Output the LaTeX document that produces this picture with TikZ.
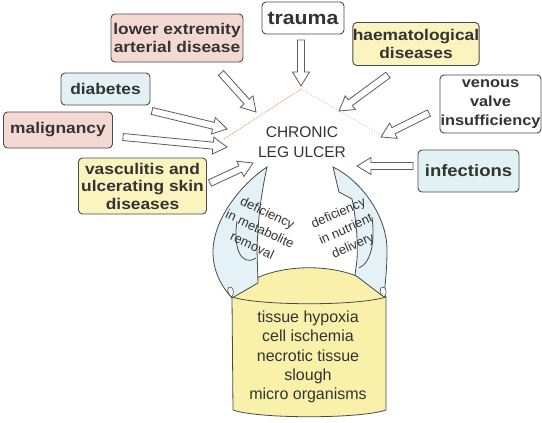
\documentclass[tikz,border=0pt]{standalone}
\usepackage{fontspec}
\setmainfont{Liberation Sans}
\newfontfamily\boxfont[FakeStretch=1.12]{Liberation Sans}
\usetikzlibrary{calc}
\definecolor{linec}{HTML}{4A4A4A}
\definecolor{textc}{HTML}{333333}
\definecolor{pinkf}{HTML}{F4D9D2}
\definecolor{bluef}{HTML}{E2F1F3}
\definecolor{yellowf}{HTML}{FBF4BE}
\definecolor{cylf}{HTML}{F9F1AA}
\definecolor{carrf}{HTML}{E4F2F7}
\definecolor{roofa}{HTML}{F0A060}
\definecolor{roofb}{HTML}{F0B4B4}
\tikzset{
  cbox/.style={draw=linec, line width=0.9pt, rounded corners=4pt, align=center,
    text=textc, inner sep=0pt,
    font=\boxfont\bfseries\fontsize{15.5}{17.5}\selectfont},
  harr/.style={draw=linec!90, line width=0.8pt, fill=white, line join=miter},
  carr/.style={draw=linec, line width=0.8pt, fill=carrf},
  clbl/.style={font=\fontsize{13}{18}\selectfont, text=textc, inner sep=0pt, align=center},
}
\newcommand{\harrow}[2]{%
  \coordinate (hb) at ($(#2)!14pt!(#1)$);
  \draw[harr] ($(#1)!3.5pt!90:(#2)$) -- ($(hb)!3.5pt!90:(#2)$) -- ($(hb)!8.5pt!90:(#2)$)
    -- (#2) -- ($(hb)!8.5pt!-90:(#2)$) -- ($(hb)!3.5pt!-90:(#2)$)
    -- ($(#1)!3.5pt!-90:(#2)$) -- cycle;
}
\begin{document}
\begin{tikzpicture}[x=1pt,y=-1pt]
\useasboundingbox[fill=white] (0,0) rectangle (542,423);

% roof lines
\draw[roofa, densely dotted, line width=0.9pt] (224,139) -- (301,89);
\draw[roofb, dotted, line width=0.9pt] (301,89) -- (383,136);

% boxes
\node[cbox, fill=pinkf, minimum width=132pt, minimum height=48pt] (lea) at (177,38) {lower extremity\\arterial disease};
\node[cbox, fill=white, minimum width=82pt, minimum height=32pt, font=\boxfont\bfseries\fontsize{19}{21}\selectfont] (trauma) at (303,18) {trauma};
\node[cbox, fill=yellowf, minimum width=124pt, minimum height=43pt] (haem) at (416,44) {haematological\\diseases};
\node[cbox, fill=bluef, minimum width=89pt, minimum height=32pt] (diab) at (105.5,89) {diabetes};
\node[cbox, fill=white, minimum width=101pt, minimum height=58pt, font=\boxfont\bfseries\fontsize{14.6}{19}\selectfont] (venous) at (490.5,104) {venous\\valve\\insufficiency};
\node[cbox, fill=pinkf, minimum width=109pt, minimum height=36pt] (malig) at (58,130) {malignancy};
\node[cbox, fill=bluef, minimum width=101pt, minimum height=42pt, font=\boxfont\bfseries\fontsize{16.5}{18}\selectfont] (infect) at (468.5,171) {infections};
\node[cbox, fill=yellowf, minimum width=128pt, minimum height=56pt] (vasc) at (142.5,186) {vasculitis and\\ulcerating skin\\diseases};

% centre
\node[font=\fontsize{15.5}{20}\selectfont, text=textc, align=center, inner sep=0pt] (ulcer) at (302,142) {CHRONIC\\LEG ULCER};

% hollow arrows
\coordinate (s1) at (221,73);  \coordinate (e1) at (256,112);
\coordinate (s2) at (301,40);  \coordinate (e2) at (301,86);
\coordinate (s3) at (388,75);  \coordinate (e3) at (339,111);
\coordinate (s4) at (152,111); \coordinate (e4) at (227,129);
\coordinate (s5) at (123,137); \coordinate (e5) at (227,147);
\coordinate (s6) at (210,183); \coordinate (e6) at (253,163);
\coordinate (s7) at (429,113); \coordinate (e7) at (381,137);
\coordinate (s8) at (413,166); \coordinate (e8) at (357,166);
\harrow{s1}{e1}
\harrow{s2}{e2}
\harrow{s3}{e3}
\harrow{s4}{e4}
\harrow{s5}{e5}
\harrow{s6}{e6}
\harrow{s7}{e7}
\harrow{s8}{e8}

% cylinder
\filldraw[fill=cylf, draw=linec, line width=0.8pt]
  (232,297) .. controls (260,258) and (358,258) .. (386,297)
  -- (386,410) .. controls (360,419) and (258,419) .. (233,410) -- cycle;
\draw[linec, line width=0.8pt] (232,297) .. controls (260,306) and (358,306) .. (386,297);
\node[font=\fontsize{16}{19.2}\selectfont, text=textc, align=center, inner sep=0pt] (cyl) at (308,357)
  {tissue hypoxia\\cell ischemia\\necrotic tissue\\slough\\micro organisms};

% curved arrows
\filldraw[carr] (267,167) .. controls (240,185) and (213,220) .. (213,252)
  .. controls (213,272) and (222,287) .. (232,298) -- (258,283) -- (257,250)
  .. controls (258,215) and (262,190) .. (267,167) -- cycle;
\draw[linec, line width=0.8pt] (237,221) .. controls (233,245) and (240,268) .. (256,258);
\draw[linec, line width=0.6pt, fill=white] (232,297) .. controls (226,293) and (227,286) .. (231,287) .. controls (234,289) and (234,294) .. (232,297);

\filldraw[carr] (333,167) .. controls (360,180) and (387,215) .. (387,250)
  .. controls (387,270) and (385,285) .. (384,297) -- (355,275) -- (357,260)
  .. controls (358,240) and (356,218) .. (352,199) -- (339,192) -- cycle;
\draw[linec, line width=0.8pt] (372,217) .. controls (375,240) and (372,262) .. (359,268);
\draw[linec, line width=0.6pt, fill=white] (384,297) .. controls (379,294) and (379,287) .. (383,287) .. controls (387,288) and (387,294) .. (384,297);

% labels on curved arrows
\node[clbl, rotate=-25] (lab1) at (260,229) {deficiency\\in metabolite\\removal};
\node[clbl, rotate=24] (lab2) at (346,230) {deficiency\\in nutrient\\delivery};
\end{tikzpicture}
\end{document}
